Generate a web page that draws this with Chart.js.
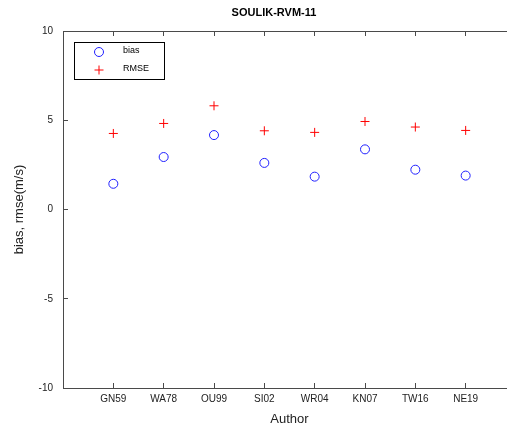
<!DOCTYPE html>
<html>
<head>
<meta charset="utf-8">
<script src="https://cdn.jsdelivr.net/npm/chart.js"></script>
<style>
    html, body { margin: 0; padding: 0; background: #fff; overflow: hidden; }
    #wrap { width: 507px; height: 427px; overflow: hidden; }
</style>
</head>
<body>
<div id="wrap"><canvas id="chart" width="548" height="427"></canvas></div>
<script>
// Данные
const categories = ['GN59', 'WA78', 'OU99', 'SI02', 'WR04', 'KN07', 'TW16', 'NE19'];
const biasValues = [1.44, 2.94, 4.17, 2.61, 1.84, 3.37, 2.23, 1.90];
const rmseValues = [4.26, 4.82, 5.81, 4.41, 4.32, 4.93, 4.62, 4.43];
const yTicks = [-10, -5, 0, 5, 10];

const FONT = "'Liberation Sans', Arial, sans-serif";
const AXIS_COLOR = '#4a4a4a';

// Тики внутрь графика, как в MATLAB
function categoryTicks(scale) {
    scale.ticks = categories.map((c, i) => ({ value: i + 1 }));
}

// Легенда в рамке
const boxLegend = {
    id: 'boxLegend',
    afterDraw(chart) {
        const ctx = chart.ctx;
        ctx.save();
        ctx.fillStyle = '#fff';
        ctx.strokeStyle = '#000';
        ctx.lineWidth = 1;
        ctx.fillRect(74.5, 42.5, 90, 37);
        ctx.strokeRect(74.5, 42.5, 90, 37);
        chart.data.datasets.forEach((ds, i) => {
            const cy = 52 + i * 18;
            ctx.strokeStyle = ds.borderColor;
            ctx.lineWidth = 1;
            ctx.beginPath();
            if (ds.pointStyle === 'circle') {
                ctx.arc(99, cy, 4.5, 0, Math.PI * 2);
            } else {
                ctx.moveTo(94.5, cy); ctx.lineTo(103.5, cy);
                ctx.moveTo(99, cy - 4.5); ctx.lineTo(99, cy + 4.5);
            }
            ctx.stroke();
            ctx.fillStyle = '#000';
            ctx.font = '9px ' + FONT;
            ctx.textBaseline = 'middle';
            ctx.textAlign = 'left';
            ctx.fillText(ds.label, 123, cy - 1);
        });
        ctx.restore();
    }
};

const ctx = document.getElementById('chart').getContext('2d');
const chart = new Chart(ctx, {
    type: 'scatter',
    data: {
        datasets: [
            {
                label: 'bias',
                data: biasValues.map((v, i) => ({ x: i + 1, y: v })),
                pointStyle: 'circle',
                pointRadius: 4.5,
                borderColor: '#2020ff',
                backgroundColor: 'rgba(0,0,0,0)',
                borderWidth: 1
            },
            {
                label: 'RMSE',
                data: rmseValues.map((v, i) => ({ x: i + 1, y: v })),
                pointStyle: 'cross',
                pointRadius: 4.5,
                borderColor: '#ff0000',
                backgroundColor: '#ff0000',
                borderWidth: 1
            }
        ]
    },
    options: {
        responsive: false,
        animation: false,
        devicePixelRatio: 1,
        layout: { padding: { left: 32, right: 32, top: 0, bottom: 0 } },
        plugins: {
            legend: { display: false },
            tooltip: { enabled: false },
            title: {
                display: true,
                text: 'SOULIK-RVM-11',
                color: '#000',
                font: { family: FONT, size: 11, weight: 'bold' },
                padding: { top: 6, bottom: 11.8 }
            }
        },
        scales: {
            x: {
                type: 'linear',
                position: 'bottom',
                min: 0,
                max: 9,
                afterBuildTicks: categoryTicks,
                afterFit: s => { s.height = 39; },
                grid: { drawOnChartArea: false, drawTicks: true, tickLength: -5, color: AXIS_COLOR },
                border: { display: true, color: AXIS_COLOR, width: 1 },
                ticks: {
                    padding: 10,
                    color: '#222',
                    font: { family: FONT, size: 10 },
                    maxRotation: 0,
                    autoSkip: false,
                    callback: v => categories[v - 1] ?? ''
                },
                title: {
                    display: true,
                    text: 'Author',
                    color: '#222',
                    font: { family: FONT, size: 13 },
                    padding: { top: 0, bottom: 0 }
                }
            },
            x2: {
                type: 'linear',
                position: 'top',
                min: 0,
                max: 9,
                afterBuildTicks: categoryTicks,
                afterFit: s => { s.height = 0; },
                grid: { drawOnChartArea: false, drawTicks: true, tickLength: -5, color: AXIS_COLOR },
                border: { display: true, color: AXIS_COLOR, width: 1 },
                ticks: { display: false }
            },
            y: {
                type: 'linear',
                position: 'left',
                min: -10,
                max: 10,
                afterBuildTicks: s => { s.ticks = yTicks.map(v => ({ value: v })); },
                afterFit: s => { s.width = 31; },
                grid: { drawOnChartArea: false, drawTicks: true, tickLength: -5, color: AXIS_COLOR },
                border: { display: true, color: AXIS_COLOR, width: 1 },
                ticks: {
                    padding: 15,
                    color: '#222',
                    font: { family: FONT, size: 10 }
                },
                title: {
                    display: true,
                    text: 'bias, rmse(m/s)',
                    color: '#222',
                    font: { family: FONT, size: 13 },
                    padding: { top: -20.8, bottom: 0 }
                }
            }
        }
    },
    plugins: [boxLegend]
});
</script>
</body>
</html>
